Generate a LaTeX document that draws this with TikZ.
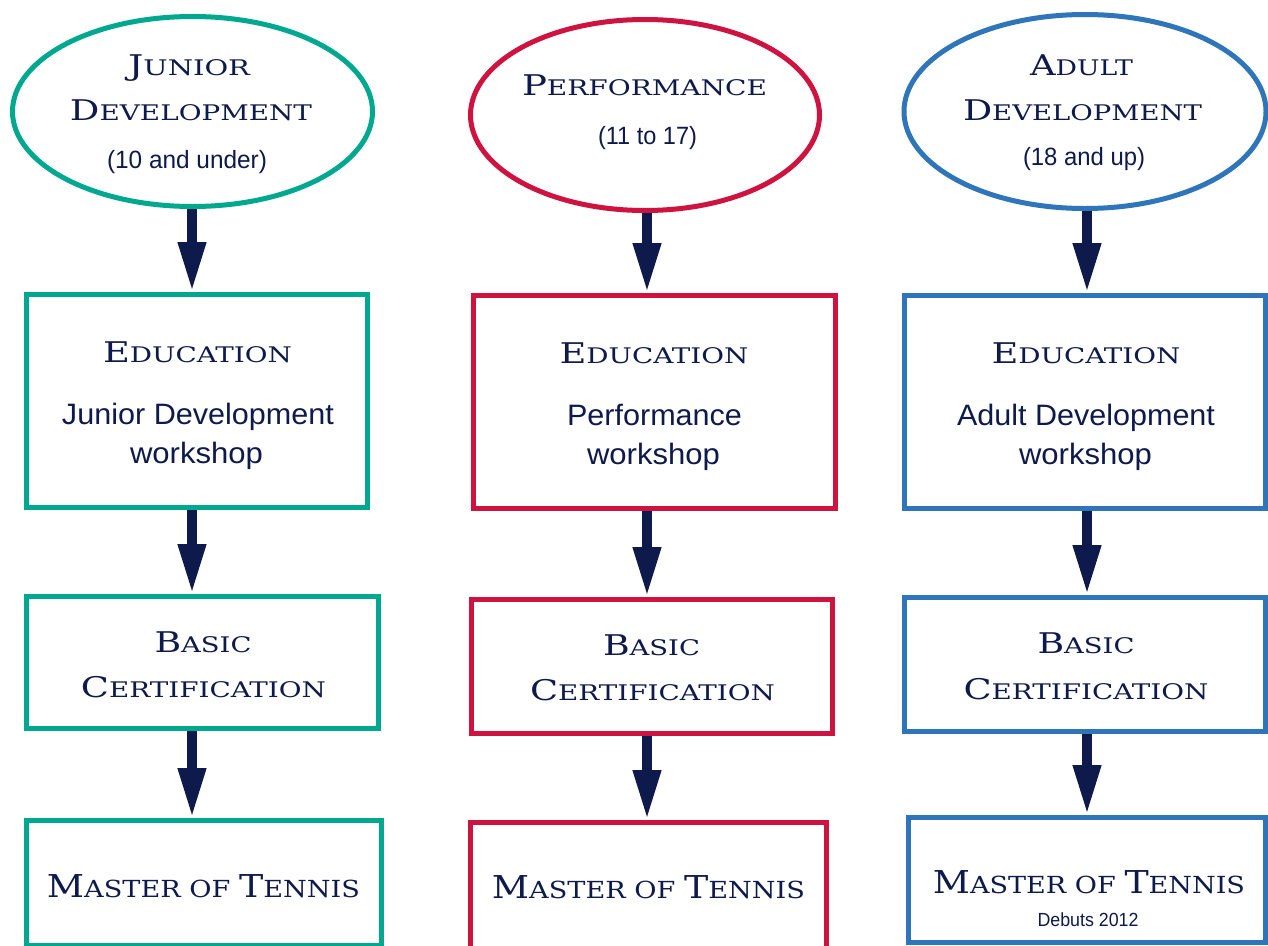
\documentclass[tikz,border=0pt]{standalone}
\usepackage{fontspec}
\usepackage{graphicx}
\usetikzlibrary{shapes.geometric,arrows.meta}
\newfontfamily\sansf{Liberation Sans}
\newfontfamily\capf{DejaVu Serif}
\definecolor{navy}{HTML}{0D1A4B}
\definecolor{teal}{HTML}{00A88F}
\definecolor{crim}{HTML}{CF1340}
\definecolor{blu}{HTML}{2E75BA}
% fake small caps: big first letter, smaller rest
\newcommand\cpw[2]{{\fontsize{28.5}{30}\selectfont #1}{\fontsize{21.5}{23}\selectfont #2}}
\newcommand\cpm[2]{{\fontsize{31.5}{33}\selectfont #1}{\fontsize{23.5}{25}\selectfont #2}}
\newcommand\fitw[2]{\resizebox{#1}{\height}{#2}}
\begin{document}
\begin{tikzpicture}[x=1pt,y=-1pt,
  oval/.style={ellipse,draw=#1,line width=5pt,inner sep=0pt},
  boxx/.style={rectangle,draw=#1,line width=5pt,inner sep=0pt},
  lab/.style={anchor=base,inner sep=0pt,text=navy,font=\capf},
  sub/.style={anchor=base,inner sep=0pt,text=navy,font=\sansf\fontsize{25}{25}\selectfont},
  wk/.style={anchor=base,inner sep=0pt,text=navy,font=\sansf\fontsize{29.5}{29.5}\selectfont},
  arr/.style={draw=navy,line width=10pt,-{Triangle[width=26pt,length=50pt]}}]
\useasboundingbox (0,0) rectangle (1268,945);

% ---------- shapes ----------
\node[oval=teal,minimum width=360pt,minimum height=190pt] (j1) at (192.5,111.5) {};
\node[boxx=teal,minimum width=341pt,minimum height=213pt] (j2) at (197,401) {};
\node[boxx=teal,minimum width=352pt,minimum height=132pt] (j3) at (202.5,662.5) {};
\node[boxx=teal,minimum width=355pt,minimum height=125pt] (j4) at (204,883) {};

\node[oval=crim,minimum width=349pt,minimum height=191pt] (p1) at (645,115) {};
\node[boxx=crim,minimum width=362pt,minimum height=213pt] (p2) at (654.5,402) {};
\node[boxx=crim,minimum width=361pt,minimum height=134pt] (p3) at (652,666.5) {};
\node[boxx=crim,minimum width=356pt,minimum height=130pt] (p4) at (648.5,887.5) {};

\node[oval=blu,minimum width=362pt,minimum height=194pt] (a1) at (1085,111.5) {};
\node[boxx=blu,minimum width=361pt,minimum height=213pt] (a2) at (1085,402) {};
\node[boxx=blu,minimum width=361pt,minimum height=134pt] (a3) at (1085,664.5) {};
\node[boxx=blu,minimum width=357pt,minimum height=125pt] (a4) at (1087,880) {};

% ---------- arrows ----------
\coordinate (cj) at (192,0);
\coordinate (cp) at (647,0);
\coordinate (ca) at (1087,0);
\draw[arr] (cj |- j1.south) -- (cj |- j2.north);
\draw[arr] (cj |- j2.south) -- (cj |- j3.north);
\draw[arr] (cj |- j3.south) -- (cj |- j4.north);
\draw[arr] (cp |- p1.south) -- (cp |- p2.north);
\draw[arr] (cp |- p2.south) -- (cp |- p3.north);
\draw[arr] (cp |- p3.south) -- (cp |- p4.north);
\draw[arr] (ca |- a1.south) -- (ca |- a2.north);
\draw[arr] (ca |- a2.south) -- (ca |- a3.north);
\draw[arr] (ca |- a3.south) -- (ca |- a4.north);

% ---------- texts, column 1 ----------
\node[lab] (tj1a) at (189,75) {\fitw{122pt}{\cpw{J}{UNIOR}}};
\node[lab] (tj1b) at (191,120) {\fitw{242pt}{\cpw{D}{EVELOPMENT}}};
\node[sub] (tj1c) at (187,168) {\fitw{160pt}{(10 and under)}};
\node[lab] (tj2a) at (197.5,362) {\fitw{189pt}{\cpw{E}{DUCATION}}};
\node[wk] (tj2b) at (198,424) {\fitw{272pt}{Junior Development}};
\node[wk] (tj2c) at (196.5,463) {\fitw{133pt}{workshop}};
\node[lab] (tj3a) at (203,652) {\fitw{97pt}{\cpw{B}{ASIC}}};
\node[lab] (tj3b) at (203.5,697) {\fitw{245pt}{\cpw{C}{ERTIFICATION}}};
\node[lab] (tj4a) at (203.5,897) {\fitw{313pt}{\cpm{M}{ASTER OF }\cpm{T}{ENNIS}}};

% ---------- texts, column 2 ----------
\node[lab] (tp1a) at (644.5,95) {\fitw{245pt}{\cpw{P}{ERFORMANCE}}};
\node[sub] (tp1c) at (647.5,144) {\fitw{99pt}{(11 to 17)}};
\node[lab] (tp2a) at (654,363) {\fitw{189pt}{\cpw{E}{DUCATION}}};
\node[wk] (tp2b) at (654.5,425) {\fitw{175pt}{Performance}};
\node[wk] (tp2c) at (653.5,464) {\fitw{133pt}{workshop}};
\node[lab] (tp3a) at (651.5,655) {\fitw{97pt}{\cpw{B}{ASIC}}};
\node[lab] (tp3b) at (652.5,700) {\fitw{245pt}{\cpw{C}{ERTIFICATION}}};
\node[lab] (tp4a) at (648.5,898) {\fitw{313pt}{\cpm{M}{ASTER OF }\cpm{T}{ENNIS}}};

% ---------- texts, column 3 ----------
\node[lab] (ta1a) at (1081.5,75) {\fitw{103pt}{\cpw{A}{DULT}}};
\node[lab] (ta1b) at (1082.5,120) {\fitw{239pt}{\cpw{D}{EVELOPMENT}}};
\node[sub] (ta1c) at (1084,165) {\fitw{122pt}{(18 and up)}};
\node[lab] (ta2a) at (1086,363) {\fitw{189pt}{\cpw{E}{DUCATION}}};
\node[wk] (ta2b) at (1086,425) {\fitw{258pt}{Adult Development}};
\node[wk] (ta2c) at (1085.5,464) {\fitw{133pt}{workshop}};
\node[lab] (ta3a) at (1086,653) {\fitw{97pt}{\cpw{B}{ASIC}}};
\node[lab] (ta3b) at (1086,699) {\fitw{245pt}{\cpw{C}{ERTIFICATION}}};
\node[lab] (ta4a) at (1089,893) {\fitw{312pt}{\cpm{M}{ASTER OF }\cpm{T}{ENNIS}}};
\node[anchor=base,inner sep=0pt,text=navy,font=\sansf\fontsize{19}{19}\selectfont] (ta4b) at (1088,926) {\fitw{101pt}{Debuts 2012}};
\end{tikzpicture}
\end{document}
